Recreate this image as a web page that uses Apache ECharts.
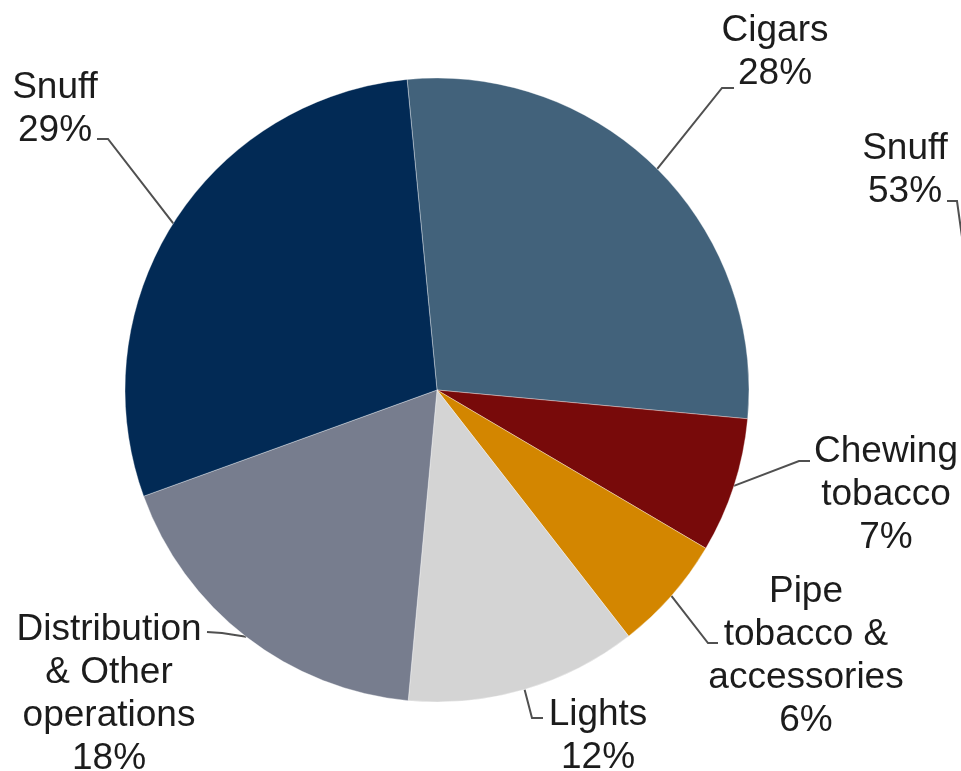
<!DOCTYPE html>
<html>
<head>
<meta charset="utf-8">
<script src="https://cdn.jsdelivr.net/npm/echarts@6/dist/echarts.min.js"></script>
<style>
html,body{margin:0;padding:0;background:#fff;}
#chart{width:961px;height:771px;}
</style>
</head>
<body>
<div id="chart"></div>
<script>
// ---- data ----
const categories = ['Cigars', 'Chewing\ntobacco', 'Pipe\ntobacco &\naccessories', 'Lights', 'Distribution\n& Other\noperations', 'Snuff'];
const shares = [28, 7, 6, 12, 18, 29];
const sideCategories = ['Snuff'];
const sideShares = [53];

// ---- layout / style (not data) ----
const colors = ['#42627b', '#780a0a', '#d38600', '#d4d4d4', '#777d8e', '#022a55'];
const CX = 437, CY = 390, R = 312, START = 95.5;
// label text anchor (center x, top y) and leader elbow/end points
const labelPlace = [
  { x: 775, y: 9,   elbow: [722, 88],  end: [734, 88] },
  { x: 886, y: 430, elbow: [799, 461], end: [810, 461] },
  { x: 806, y: 570, elbow: [708, 643], end: [718, 643] },
  { x: 598, y: 693, elbow: [532, 718], end: [543, 718] },
  { x: 109, y: 608, elbow: [222, 633], end: [207, 632] },
  { x: 55,  y: 66,  elbow: [108, 139], end: [97, 139] }
];
const sidePlace = { x: 905, y: 127, end: [947, 201], elbow: [957, 201], tail: [975, 330] };

function edgePoint(i) {
  const total = shares.reduce((a, b) => a + b, 0);
  let before = 0;
  for (let k = 0; k < i; k++) before += shares[k];
  const ang = (START - (before + shares[i] / 2) / total * 360) * Math.PI / 180;
  return [CX + R * Math.cos(ang), CY - R * Math.sin(ang)];
}

const labelFont = {
  fontFamily: 'Liberation Sans, Arial, sans-serif',
  fontSize: 37,
  lineHeight: 43,
  color: '#1c1c1c',
  align: 'center'
};
const leader = { color: '#505050', width: 2 };

const chart = echarts.init(document.getElementById('chart'), null, { renderer: 'canvas' });
chart.setOption({
  animation: false,
  backgroundColor: '#fff',
  series: [
    {
      type: 'pie',
      center: [CX, CY],
      radius: R,
      startAngle: START,
      clockwise: true,
      avoidLabelOverlap: false,
      data: categories.map((c, i) => ({ name: c, value: shares[i], itemStyle: { color: colors[i] } })),
      itemStyle: { borderColor: 'rgba(255,255,255,0.6)', borderWidth: 0.6 },
      label: Object.assign({ show: true, position: 'outside', formatter: '{b}\n{c}%' }, labelFont),
      labelLine: { show: true, smooth: false, lineStyle: leader },
      labelLayout: function (params) {
        const p = labelPlace[params.dataIndex];
        return {
          x: p.x, y: p.y, align: 'center', verticalAlign: 'top',
          labelLinePoints: [edgePoint(params.dataIndex), p.elbow, p.end]
        };
      },
      emphasis: { disabled: true }
    },
    {
      type: 'pie',
      center: [1420, CY],
      radius: R,
      startAngle: 90,
      avoidLabelOverlap: false,
      data: sideCategories.map((c, i) => ({ name: c, value: sideShares[i], itemStyle: { color: '#022a55' } })),
      label: Object.assign({ show: true, position: 'outside', formatter: '{b}\n{c}%' }, labelFont),
      labelLine: { show: true, smooth: false, lineStyle: leader },
      labelLayout: function () {
        return {
          x: sidePlace.x, y: sidePlace.y, align: 'center', verticalAlign: 'top',
          labelLinePoints: [sidePlace.end, sidePlace.elbow, sidePlace.tail]
        };
      },
      emphasis: { disabled: true }
    }
  ]
});
</script>
</body>
</html>
